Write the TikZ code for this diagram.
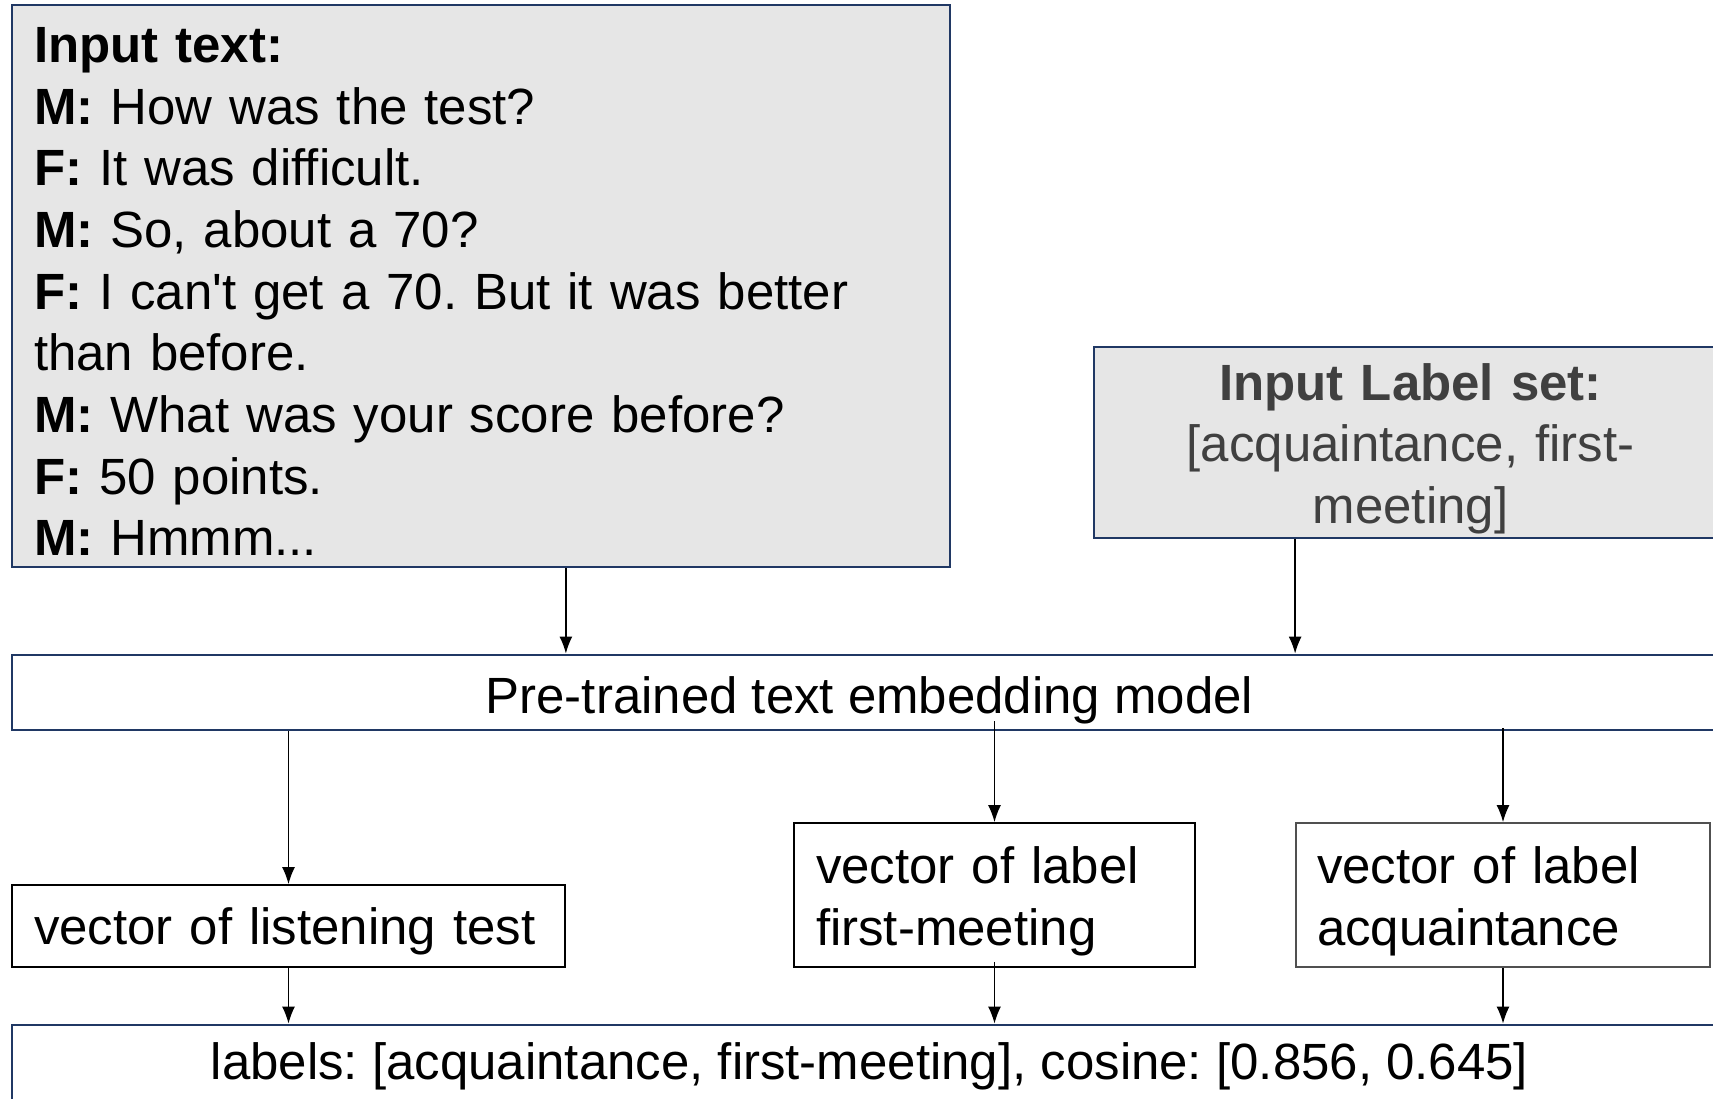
\documentclass[tikz,border=0pt]{standalone}
\usepackage{fontspec}
\setmainfont{Liberation Sans}
\usetikzlibrary{arrows.meta}
\definecolor{navy}{HTML}{203864}
\definecolor{boxgray}{HTML}{E6E6E6}
\definecolor{labeltext}{HTML}{404040}
\definecolor{vecgray}{HTML}{505050}
\frenchspacing

\begin{document}
\begin{tikzpicture}[
    every node/.style={font=\fontsize{29}{35.1}\selectfont},
    inbox/.style={draw=navy, line width=1.6pt, fill=boxgray},
    modelbox/.style={draw=navy, line width=1.6pt, minimum width=34.3cm, minimum height=1.5cm, inner sep=0pt},
    vecbox/.style={draw, line width=1pt, align=left, inner xsep=0.44cm, inner ysep=0pt},
    arr/.style={->, >={Latex[length=0.34cm,width=0.26cm]}, line width=0.8pt}
  ]
  \useasboundingbox (0,0) rectangle (34.26,21.96);
  \clip (0,0) rectangle (34.26,21.96);

  % inputs
  \node[inbox, align=left, text width=17.88cm, inner xsep=0.44cm, inner ysep=0pt, minimum height=11.24cm, text height=26.5pt] (1) at (9.62,16.24)
    {\textbf{Input text:}\\
     \textbf{M:} How was the test?\\
     \textbf{F:} It was difficult.\\
     \textbf{M:} So, about a 70?\\
     \textbf{F:} I can\textquotesingle t get a 70. But it was better\\
     than before.\\
     \textbf{M:} What was your score before?\\
     \textbf{F:} 50 points.\\
     \textbf{M:} Hmmm...};
  \node[inbox, text=labeltext, align=center, text width=12cm, minimum width=12.66cm, inner ysep=0pt, minimum height=3.82cm, text height=28pt] (2) at (28.21,13.11)
    {\textbf{Input Label set:}\\ {[}acquaintance, first-\\ meeting]};

  % model
  \node[modelbox, text height=29.5pt] (3) at (17.39,8.11) {Pre-trained text embedding model};

  % vectors
  \node[vecbox, text width=10.18cm, minimum height=1.64cm, text height=27pt] (4) at (5.77,3.44) {vector of listening test};
  \node[vecbox, text width=7.14cm, minimum height=2.88cm, text height=28pt] (5) at (19.89,4.06) {vector of label\\ first-meeting};
  \node[vecbox, draw=vecgray, text width=7.44cm, inner xsep=0.42cm, minimum height=2.88cm, text height=28pt] (6) at (30.06,4.06) {vector of label\\ acquaintance};

  % result
  \node[modelbox, text height=25pt] (7) at (17.39,0.71) {labels: [acquaintance, first-meeting], cosine: [0.856, 0.645]};

  \draw[arr] (1.south -| 4.east) -- (3.north -| 4.east);
  \draw[arr] (2.south -| 6.west) -- (3.north -| 6.west);
  \draw[arr] (3.south -| 4.north) -- (4.north);
  \draw[arr] ([yshift=0.2cm]3.south -| 5.north) -- (5.north);
  \draw[arr] ([yshift=0.06cm]3.south -| 6.north) -- (6.north);
  \draw[arr] (4.south) -- (7.north -| 4.south);
  \draw[arr] ([yshift=0.12cm]5.south) -- (7.north -| 5.south);
  \draw[arr] (6.south) -- (7.north -| 6.south);
\end{tikzpicture}
\end{document}
